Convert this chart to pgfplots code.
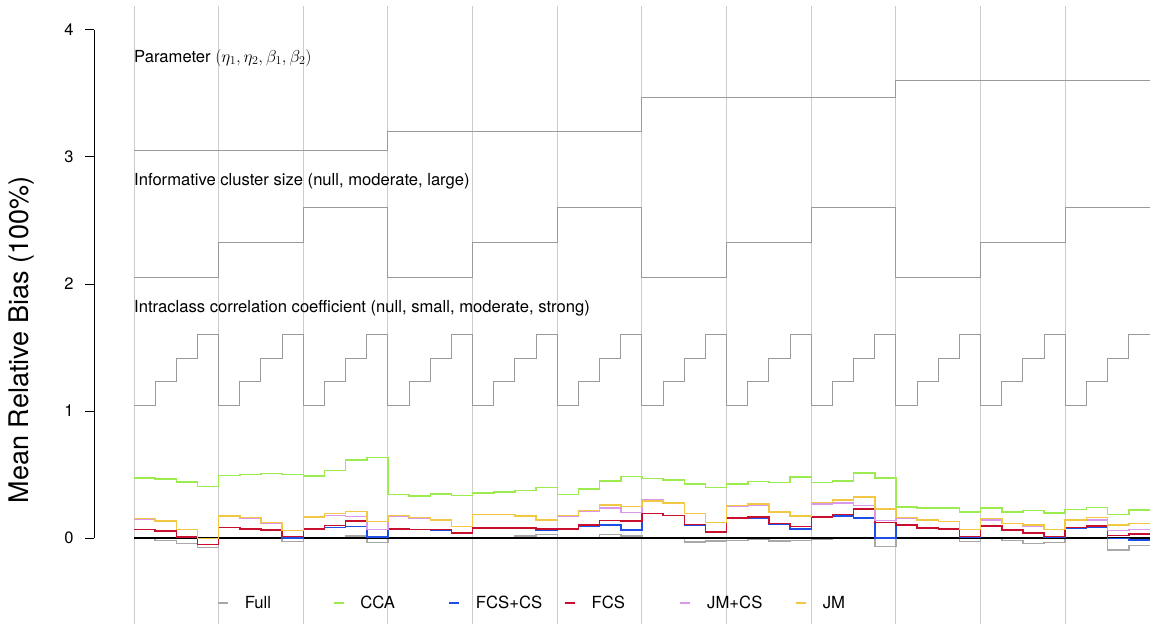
\documentclass[border=0pt]{standalone}
\usepackage{fontspec}
\setmainfont{TeX Gyre Heros}
\usepackage{pgfplots}
\usepackage{pgfplotstable}
\pgfplotsset{compat=1.18}

\definecolor{cfull}{HTML}{A8A8A8}
\definecolor{ccca}{HTML}{9CEB4F}
\definecolor{cfcscs}{HTML}{1D4FE6}
\definecolor{cfcs}{HTML}{C8102E}
\definecolor{cjmcs}{HTML}{DA98EC}
\definecolor{cjm}{HTML}{F2C744}
\definecolor{cstruct}{HTML}{9A9A9A}
\definecolor{cgrid}{HTML}{CCCCCC}

% mean relative bias per scenario (48 scenarios, nested loop order);
% the last row repeats the final value so that the last step is drawn
\pgfplotstableread{
x  full   cca    fcscs  fcs    jmcs   jm
0  -0.005 0.472  0.066  0.066  0.150  0.152
1  -0.021 0.465  0.055  0.055  0.132  0.134
2  -0.042 0.441  0.008  0.010  0.068  0.068
3  -0.076 0.404  -0.050 -0.050 -0.005 -0.005
4  0.000  0.491  0.084  0.084  0.170  0.173
5  0.000  0.499  0.073  0.073  0.158  0.160
6  0.000  0.507  0.063  0.063  0.120  0.123
7  -0.029 0.501  0.000  0.013  0.060  0.060
8  -0.004 0.486  0.073  0.071  0.163  0.163
9  -0.004 0.530  0.084  0.097  0.178  0.194
10 0.016  0.614  0.092  0.134  0.168  0.210
11 -0.037 0.633  0.008  0.068  0.068  0.129
12 0.000  0.344  0.073  0.073  0.173  0.176
13 0.000  0.333  0.066  0.066  0.158  0.160
14 0.000  0.346  0.063  0.066  0.142  0.144
15 0.000  0.336  0.034  0.037  0.090  0.092
16 -0.004 0.352  0.079  0.081  0.184  0.186
17 0.005  0.362  0.079  0.081  0.184  0.186
18 0.018  0.375  0.076  0.079  0.168  0.171
19 0.029  0.399  0.063  0.071  0.140  0.142
20 -0.004 0.341  0.073  0.073  0.173  0.176
21 0.000  0.386  0.092  0.100  0.213  0.218
22 0.029  0.449  0.100  0.139  0.234  0.260
23 0.018  0.483  0.063  0.136  0.202  0.247
24 0.000  0.467  0.192  0.192  0.297  0.289
25 0.000  0.459  0.176  0.176  0.276  0.276
26 -0.031 0.423  0.100  0.105  0.194  0.192
27 -0.026 0.399  0.047  0.047  0.123  0.123
28 -0.021 0.423  0.155  0.157  0.252  0.255
29 -0.010 0.444  0.157  0.165  0.262  0.270
30 -0.026 0.436  0.108  0.113  0.207  0.207
31 -0.021 0.478  0.073  0.092  0.173  0.173
32 -0.010 0.438  0.165  0.165  0.270  0.281
33 -0.005 0.451  0.171  0.186  0.276  0.297
34 0.000  0.514  0.157  0.226  0.255  0.323
35 -0.066 0.472  0.000  0.123  0.139  0.228
36 0.000  0.244  0.100  0.100  0.155  0.160
37 0.000  0.234  0.079  0.079  0.139  0.144
38 0.000  0.234  0.068  0.073  0.131  0.131
39 -0.029 0.205  0.008  0.013  0.066  0.066
40 0.000  0.234  0.094  0.094  0.144  0.152
41 -0.021 0.205  0.063  0.063  0.115  0.115
42 -0.042 0.218  0.037  0.039  0.094  0.102
43 -0.037 0.199  0.003  0.013  0.068  0.068
44 0.000  0.223  0.079  0.084  0.139  0.144
45 -0.005 0.239  0.084  0.094  0.142  0.160
46 -0.094 0.186  -0.005 0.021  0.060  0.100
47 -0.058 0.220  -0.016 0.031  0.068  0.115
48 -0.058 0.220  -0.016 0.031  0.068  0.115
}\biasdata

\begin{document}
\begin{tikzpicture}
% y axis (0 to 4) in base R style
\begin{axis}[
  at={(94pt,86pt)}, anchor=south west,
  scale only axis, width=1pt, height=508pt,
  xmin=0, xmax=1, ymin=0, ymax=4,
  axis x line=none, axis y line*=left,
  y axis line style={line width=1pt},
  ytick={0,1,2,3,4},
  tick align=outside, major tick length=9pt,
  tick style={line width=1pt, black},
  yticklabel style={font=\fontsize{16.5}{19}\selectfont, /pgf/number format/assume math mode=true, xshift=-8pt},
]
\addplot[draw=none] coordinates {(0,0)};
\end{axis}

% main panel
\begin{axis}[
  at={(134pt,0pt)}, anchor=south west,
  scale only axis, width=1016pt, height=624pt,
  xmin=0, xmax=48, ymin=-0.6772, ymax=4.2362,
  axis lines=none, clip=false,
  legend columns=6,
  legend style={at={(axis cs:3.93,-0.51)}, anchor=west, draw=none, fill=none,
    inner sep=0pt, outer sep=0pt, font=\fontsize{16.7}{19}\selectfont,
    nodes={inner sep=0pt},
    /tikz/every odd column/.append style={column sep=16pt}},
  legend image code/.code={\draw[#1] (0pt,0pt) -- (10pt,0pt);},
]
% block separators
\pgfplotsinvokeforeach{0,4,...,44}{
  \draw[cgrid, line width=1pt] (axis cs:#1,4.19) -- (axis cs:#1,-0.6772);
}
% nested-loop design indicators
\addplot[cstruct, line width=1pt, const plot, forget plot] coordinates {
  (0,3.055) (12,3.197) (24,3.465) (36,3.606) (48,3.606)};
\addplot[cstruct, line width=1pt, const plot, forget plot] coordinates {
  (0,2.055) (4,2.323) (8,2.606) (12,2.055) (16,2.323) (20,2.606)
  (24,2.055) (28,2.323) (32,2.606) (36,2.055) (40,2.323) (44,2.606) (48,2.606)};
\addplot[cstruct, line width=1pt, const plot, forget plot] coordinates {
  (0,1.047) (1,1.236) (2,1.417) (3,1.606) (4,1.047) (5,1.236) (6,1.417) (7,1.606)
  (8,1.047) (9,1.236) (10,1.417) (11,1.606) (12,1.047) (13,1.236) (14,1.417) (15,1.606)
  (16,1.047) (17,1.236) (18,1.417) (19,1.606) (20,1.047) (21,1.236) (22,1.417) (23,1.606)
  (24,1.047) (25,1.236) (26,1.417) (27,1.606) (28,1.047) (29,1.236) (30,1.417) (31,1.606)
  (32,1.047) (33,1.236) (34,1.417) (35,1.606) (36,1.047) (37,1.236) (38,1.417) (39,1.606)
  (40,1.047) (41,1.236) (42,1.417) (43,1.606) (44,1.047) (45,1.236) (46,1.417) (47,1.606)
  (48,1.606)};
% methods
\addplot[cfull, line width=1.6pt, const plot] table[x=x, y=full] {\biasdata};
\addlegendentry{\makebox[88pt][l]{Full}}
% zero reference
\addplot[black, line width=2pt, forget plot] coordinates {(0,0) (48,0)};
\addplot[ccca, line width=1.6pt, const plot] table[x=x, y=cca] {\biasdata};
\addlegendentry{\makebox[88pt][l]{CCA}}
\addplot[cfcscs, line width=1.6pt, const plot] table[x=x, y=fcscs] {\biasdata};
\addlegendentry{\makebox[88pt][l]{FCS+CS}}
\addplot[cfcs, line width=1.6pt, const plot] table[x=x, y=fcs] {\biasdata};
\addlegendentry{\makebox[88pt][l]{FCS}}
\addplot[cjmcs, line width=1.6pt, const plot] table[x=x, y=jmcs] {\biasdata};
\addlegendentry{\makebox[88pt][l]{JM+CS}}
\addplot[cjm, line width=1.6pt, const plot] table[x=x, y=jm] {\biasdata};
\addlegendentry{\makebox[88pt][l]{JM}}
% design labels
\node[anchor=west, inner sep=0pt, font=\fontsize{16.6}{19}\selectfont] at (axis cs:0,3.78)
  {Parameter $(\eta_1,\eta_2,\beta_1,\beta_2)$};
\node[anchor=west, inner sep=0pt, font=\fontsize{16.6}{19}\selectfont] at (axis cs:0,2.81)
  {Informative cluster size (null, moderate, large)};
\node[anchor=west, inner sep=0pt, font=\fontsize{16.6}{19}\selectfont] at (axis cs:0,1.81)
  {Intraclass correlation coefficient (null, small, moderate, strong)};
\end{axis}

\node[rotate=90, font=\fontsize{27}{31}\selectfont] at (22pt,284pt) {Mean Relative Bias (100\%)};

\pgfresetboundingbox
\path[use as bounding box] (0pt,0pt) rectangle (1150pt,624pt);
\end{tikzpicture}
\end{document}
